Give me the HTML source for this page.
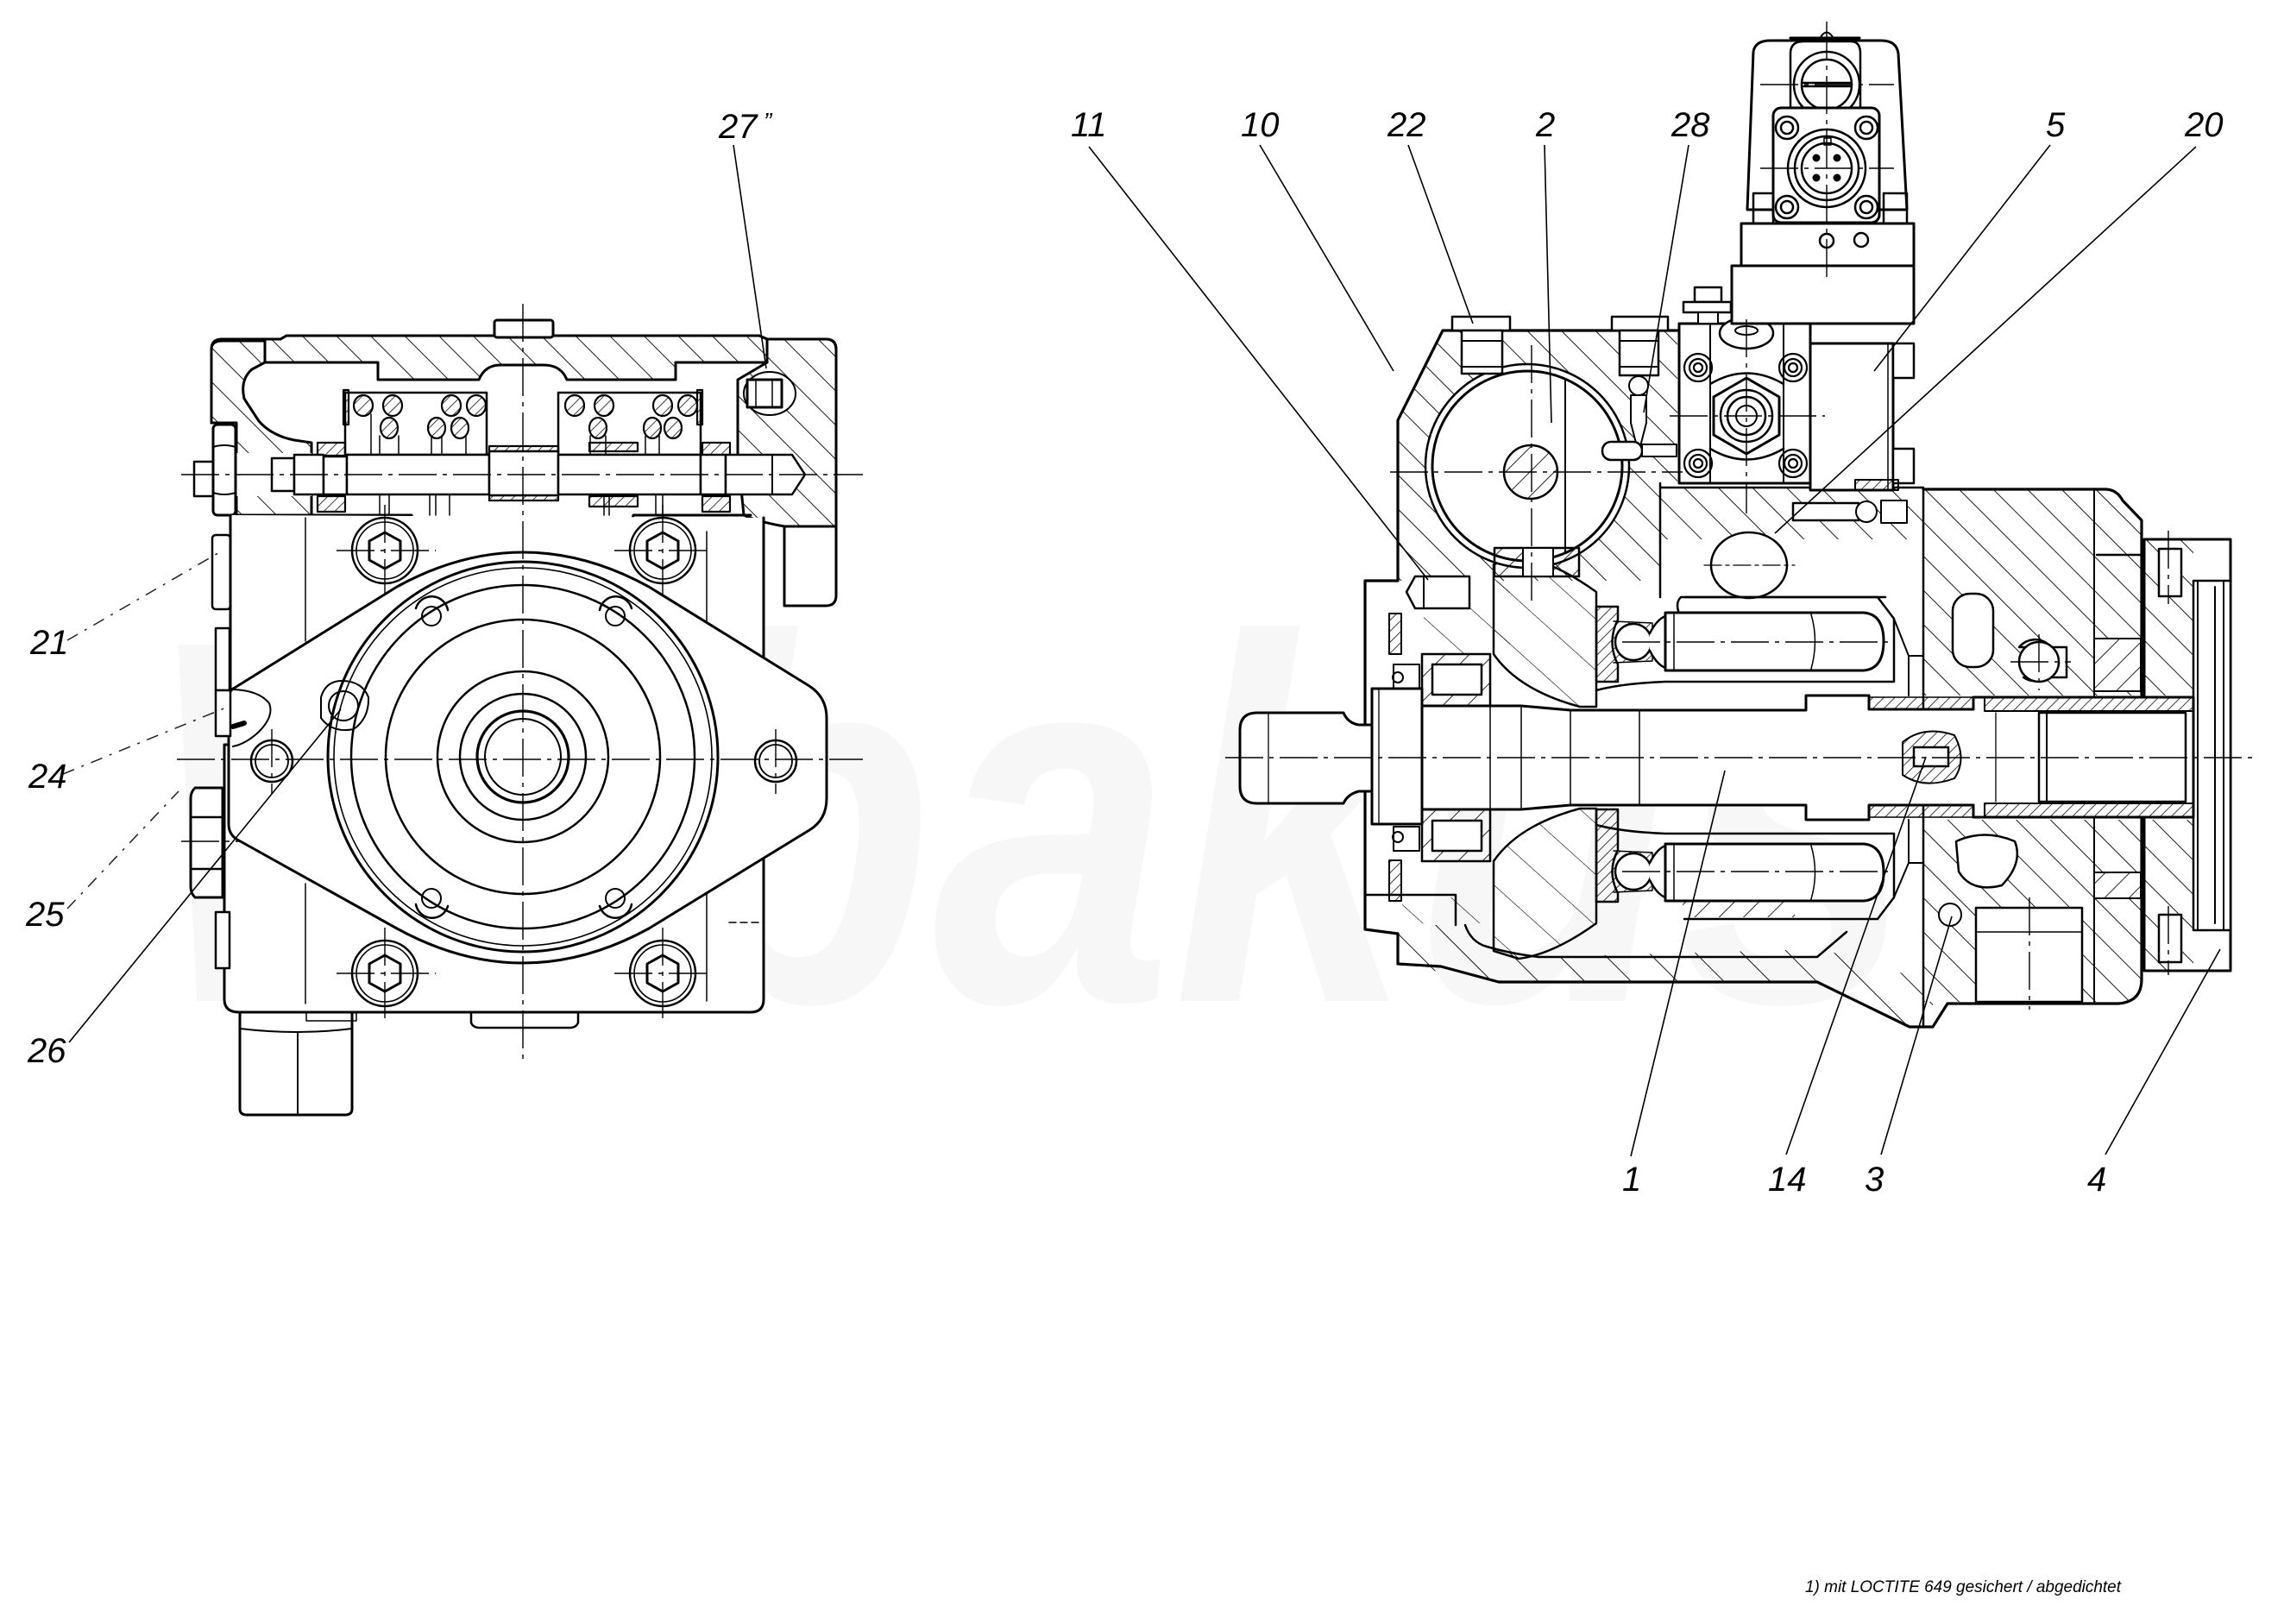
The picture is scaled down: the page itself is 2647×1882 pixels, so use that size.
<!DOCTYPE html>
<html><head><meta charset="utf-8"><style>
html,body{margin:0;padding:0;background:#fff;}
svg{display:block;}
text{font-family:"Liberation Sans",sans-serif;font-style:italic;fill:#000;}
</style></head><body>
<svg width="2647" height="1882" viewBox="0 0 2647 1882" xmlns="http://www.w3.org/2000/svg">
<defs>
<pattern id="h" width="28" height="28" patternUnits="userSpaceOnUse" patternTransform="rotate(-45)"><line x1="0" y1="0" x2="0" y2="28" stroke="#000" stroke-width="1.8"/></pattern>
<pattern id="h2" width="20" height="20" patternUnits="userSpaceOnUse" patternTransform="rotate(45)"><line x1="0" y1="0" x2="0" y2="20" stroke="#000" stroke-width="1.7"/></pattern>
<pattern id="hf" width="9" height="9" patternUnits="userSpaceOnUse" patternTransform="rotate(45)"><line x1="0" y1="0" x2="0" y2="9" stroke="#000" stroke-width="1.5"/></pattern>
<pattern id="hs" width="44" height="44" patternUnits="userSpaceOnUse" patternTransform="rotate(-48)"><line x1="0" y1="0" x2="0" y2="44" stroke="#000" stroke-width="1.2"/></pattern>
<pattern id="hw" width="38" height="38" patternUnits="userSpaceOnUse" patternTransform="rotate(-45)"><line x1="0" y1="0" x2="0" y2="38" stroke="#000" stroke-width="1.8"/></pattern>
</defs>
<rect width="2647" height="1882" fill="#fff"/>

<!-- watermark -->
<text x="170" y="1160" font-size="600" font-weight="bold" textLength="2050" lengthAdjust="spacingAndGlyphs" style="fill:#f7f7f7">Wibakus</text>

<!-- ================= LEFT VIEW ================= -->
<g fill="none" stroke="#000" stroke-width="3" stroke-linejoin="round" stroke-linecap="round">
<path fill="url(#h)" d="M325,393 L332,389 L880,389 L889,393 L889,420 L783,420 L783,440 L657,440 Q650,423 630,423 L580,423 Q562,423 555,440 L438,440 L438,420 L307,420 L307,393 Z"/>
<path fill="url(#h)" d="M245,405 Q245,395 257,395 L307,395 L307,420 L292,428 Q278,440 283,462 L300,488 Q315,505 341,510 L361,513 L361,597 L274,597 L274,490 L245,490 Z"/>
<path fill="url(#h)" d="M889,393 L957,393 Q969,393 969,405 L969,610 L909,610 Q880,605 862,597 L855,527 L855,440 L889,420 Z"/>
<path d="M245,490 L245,405 Q245,393 257,393 L325,393 L332,389 L880,389 L889,393 L957,393 Q969,393 969,405 L969,690 Q969,702 957,702 L909,702 L909,610"/>
<rect x="573" y="371" width="68" height="20" rx="3" fill="#fff"/>
<ellipse cx="892" cy="456" rx="30" ry="25" fill="#fff" stroke-width="2"/>
<rect x="866" y="440" width="40" height="32" fill="#fff"/>
<line x1="876" y1="440" x2="876" y2="472" stroke-width="1.5"/><line x1="895" y1="440" x2="895" y2="472" stroke-width="1.5"/>
<rect x="400" y="455" width="164" height="72" fill="#fff" stroke-width="2.5"/>
<rect x="647" y="455" width="165" height="72" fill="#fff" stroke-width="2.5"/>
<g fill="url(#hf)" stroke-width="2.2">
<ellipse cx="421" cy="470" rx="11" ry="12"/><ellipse cx="455" cy="470" rx="11" ry="12"/><ellipse cx="523" cy="470" rx="11" ry="12"/><ellipse cx="552" cy="470" rx="11" ry="12"/>
<ellipse cx="451" cy="496" rx="10" ry="12"/><ellipse cx="506" cy="496" rx="10" ry="12"/><ellipse cx="533" cy="496" rx="10" ry="12"/>
<ellipse cx="666" cy="470" rx="11" ry="12"/><ellipse cx="700" cy="470" rx="11" ry="12"/><ellipse cx="768" cy="470" rx="11" ry="12"/><ellipse cx="797" cy="470" rx="11" ry="12"/>
<ellipse cx="693" cy="496" rx="10" ry="12"/><ellipse cx="756" cy="496" rx="10" ry="12"/><ellipse cx="780" cy="496" rx="10" ry="12"/>
<rect x="398" y="452" width="6" height="40"/><rect x="808" y="452" width="6" height="40"/>
<rect x="683" y="513" width="56" height="10"/><rect x="683" y="575" width="56" height="12"/>
<rect x="368" y="513" width="32" height="15"/><rect x="368" y="575" width="32" height="18"/>
<rect x="814" y="513" width="32" height="15"/><rect x="814" y="575" width="32" height="18"/>
<rect x="567" y="517" width="80" height="6"/><rect x="567" y="574" width="80" height="6"/>
</g>
<path d="M430,480 L430,527 M440,505 L440,527 M462,505 L462,527 M500,505 L500,527 M512,505 L512,527 M540,505 L540,527 M684,505 L684,527 M702,505 L702,527 M748,505 L748,527 M764,505 L764,527" stroke-width="1.5"/>
<rect x="274" y="525" width="87" height="50" fill="#fff" stroke="none"/>
<rect x="315" y="531" width="26" height="38" fill="#fff" stroke-width="2.5"/>
<rect x="341" y="527" width="34" height="46" fill="#fff" stroke-width="2.5"/>
<rect x="375" y="529" width="27" height="44" fill="#fff" stroke-width="2.5"/>
<rect x="402" y="527" width="165" height="46" fill="#fff" stroke-width="2.5"/>
<rect x="567" y="523" width="80" height="51" fill="#fff" stroke-width="2.5"/>
<rect x="647" y="527" width="165" height="46" fill="#fff" stroke-width="2.5"/>
<rect x="812" y="527" width="29" height="46" fill="#fff" stroke-width="2.5"/>
<path d="M841,527 L918,527 L933,550 L918,573 L841,573 Z" fill="#fff" stroke-width="2.5"/>
<line x1="895" y1="527" x2="895" y2="573" stroke-width="2"/>
<path d="M440,573 L440,597 M451,573 L451,597 M498,573 L498,597 M505,573 L505,597 M521,573 L521,597 M700,573 L700,597 M706,573 L706,597 M760,573 L760,597 M768,573 L768,597" stroke-width="1.5"/>
<rect x="225" y="535" width="22" height="40" fill="#fff" stroke-width="2.5"/>
<rect x="247" y="492" width="26" height="105" rx="5" fill="#fff" stroke-width="3"/>
<path d="M247,518 Q260,514 273,518 M247,571 Q260,575 273,571" stroke-width="2"/>
<rect x="246" y="620" width="21" height="86" rx="4" fill="#fff" stroke-width="2.5"/>
<path d="M267,628 Q300,630 300,645 Q295,660 267,660" stroke-width="1.3" stroke-dasharray="5 4"/>
<path d="M274,597 L477,597 Q485,625 510,625 L705,625 Q728,625 734,597 L870,597"/>
<path d="M267,597 L267,863 L260,863 L260,1158 Q260,1173 277,1173 L870,1173 Q885,1173 885,1158 L885,600" fill="#fff"/>
<path d="M354,600 L354,743 M354,1024 L354,1163 M819,616 L819,740 M819,1020 L819,1160" stroke-width="1.5"/>
<path d="M845,770 L885,770 M845,1069 L885,1069" stroke-width="1.5" stroke-dasharray="8 5"/>
<g stroke-width="2.5">
<circle cx="446" cy="638" r="38"/><circle cx="446" cy="638" r="33" stroke-width="1.6"/>
<circle cx="768" cy="638" r="38"/><circle cx="768" cy="638" r="33" stroke-width="1.6"/>
</g>
<path d="M272,797 L460,680 Q606,600 752,680 L938,795 Q958,808 958,832 L958,925 Q958,950 938,962 L752,1076 Q606,1156 460,1076 L275,973 Q265,967 265,955 L265,810 Q265,800 272,797 Z" fill="#fff"/>
<g stroke-width="2.5">
<circle cx="446" cy="1128" r="38"/><circle cx="446" cy="1128" r="33" stroke-width="1.6"/>
<circle cx="768" cy="1128" r="38"/><circle cx="768" cy="1128" r="33" stroke-width="1.6"/>
</g>
<g stroke-width="3">
<polygon points="446,617 464,627 464,649 446,659 428,649 428,627"/>
<polygon points="768,617 786,627 786,649 768,659 750,649 750,627"/>
<polygon points="446,1107 464,1117 464,1139 446,1149 428,1139 428,1117"/>
<polygon points="768,1107 786,1117 786,1139 768,1149 750,1139 750,1117"/>
</g>
<circle cx="606" cy="877" r="226" stroke-width="3"/>
<circle cx="606" cy="877" r="219" stroke-width="1.6"/>
<circle cx="606" cy="877" r="199" stroke-width="2.5"/>
<circle cx="606" cy="877" r="159" stroke-width="2.5"/>
<circle cx="606" cy="877" r="99" stroke-width="2.5"/>
<circle cx="606" cy="877" r="73" stroke-width="2.5"/>
<circle cx="606" cy="877" r="53" stroke-width="3.2"/>
<circle cx="606" cy="877" r="44" stroke-width="2"/>
<g stroke-width="2.5">
<path d="M482,705 A19,19 0 0,1 519,707"/><circle cx="500" cy="714" r="11" stroke-width="2"/>
<path d="M695,707 A19,19 0 0,1 732,705"/><circle cx="713" cy="714" r="11" stroke-width="2"/>
<path d="M482,1048 A19,19 0 0,0 519,1050"/><circle cx="500" cy="1041" r="11" stroke-width="2"/>
<path d="M695,1050 A19,19 0 0,0 732,1048"/><circle cx="713" cy="1041" r="11" stroke-width="2"/>
</g>
<circle cx="315" cy="882" r="24" stroke-width="2.5"/><circle cx="315" cy="882" r="19" stroke-width="1.8"/>
<circle cx="899" cy="882" r="24" stroke-width="2.5"/><circle cx="899" cy="882" r="19" stroke-width="1.8"/>
<path d="M372,808 Q378,788 398,789 Q420,790 427,808 Q428,832 410,845 Q385,850 372,832 Z" stroke-width="2"/>
<circle cx="398" cy="818" r="17" stroke-width="2"/>
<rect x="250" y="728" width="16" height="72" fill="#fff" stroke-width="2.5"/>
<rect x="250" y="800" width="17" height="53" fill="#fff" stroke-width="2.5"/>
<path d="M270,799 Q300,800 312,815 Q318,830 300,848 Q285,862 270,865" fill="#fff" stroke-width="2"/>
<path d="M270,842 L283,838" stroke-width="6"/>
<rect x="250" y="1057" width="16" height="65" fill="#fff" stroke-width="2.5"/>
<path d="M226,913 L258,913 L258,1040 L226,1040 Q221,1035 221,1028 L221,925 Q221,918 226,913 Z" fill="#fff" stroke-width="3"/>
<path d="M221,947 L258,947 M221,1007 L258,1007" stroke-width="2.5"/>
<path d="M278,1173 L408,1173 L408,1285 Q408,1292 400,1292 L286,1292 Q278,1292 278,1285 Z" fill="#fff" stroke-width="3"/>
<path d="M278,1192 Q345,1200 408,1192" stroke-width="2"/>
<line x1="345" y1="1196" x2="345" y2="1292" stroke-width="2"/>
<rect x="355" y="1173" width="58" height="10" stroke-width="1.5"/>
<path d="M546,1173 L670,1173 L670,1185 Q668,1191 660,1191 L556,1191 Q548,1191 546,1185 Z" stroke-width="2.5"/>
</g>
<g stroke="#000" stroke-width="1.4" fill="none" stroke-dasharray="44 7 5 7">
<line x1="205" y1="880" x2="1000" y2="880"/>
<line x1="606" y1="352" x2="606" y2="1232"/>
<line x1="210" y1="550" x2="1000" y2="550"/>
<line x1="446" y1="585" x2="446" y2="690"/><line x1="390" y1="638" x2="505" y2="638"/>
<line x1="768" y1="585" x2="768" y2="690"/><line x1="712" y1="638" x2="825" y2="638"/>
<line x1="390" y1="1128" x2="505" y2="1128"/><line x1="712" y1="1128" x2="825" y2="1128"/>
<line x1="446" y1="1075" x2="446" y2="1180"/><line x1="768" y1="1075" x2="768" y2="1180"/>
<line x1="315" y1="845" x2="315" y2="920"/><line x1="899" y1="845" x2="899" y2="920"/>
<line x1="210" y1="975" x2="280" y2="975"/>
</g>

<!-- ================= RIGHT VIEW ================= -->
<g fill="none" stroke="#000" stroke-width="3" stroke-linejoin="round" stroke-linecap="round">
<path fill="url(#h)" fill-rule="evenodd" stroke="none" d="M1620,487 L1672,383 L1944,383 L1944,565 L1924,565 L1924,673 L1620,673 Z M1652,540 A118,118 0 1,0 1888,540 A118,118 0 1,0 1652,540 Z"/>
<rect x="1924" y="565" width="305" height="60" fill="url(#h)" stroke="none"/>
<path fill="url(#h)" stroke="none" d="M2229,567 L2453,567 Q2482,567 2482,600 L2482,1135 Q2482,1161 2455,1161 L2229,1161 Z"/>
<path fill="url(#hw)" stroke="none" d="M1620,1117 L1731,1138 L2106,1138 L2213,1190 L2240,1190 L2240,1161 L2229,1161 L2229,1130 L2180,1125 L2130,1105 L2106,1100 L1783,1109 Q1735,1100 1723,1097 Q1705,1088 1698,1072 L1620,1072 Z"/>
<rect x="1650" y="673" width="100" height="85" fill="url(#hs)" stroke="none"/>
<rect x="1625" y="1040" width="105" height="30" fill="url(#hs)" stroke="none"/>
<rect x="2229" y="806" width="253" height="144" fill="#fff" stroke="none"/>
<rect x="2290" y="1052" width="123" height="109" fill="#fff" stroke-width="2.5"/>
<line x1="2290" y1="1080" x2="2413" y2="1080" stroke-width="1.5"/>
<rect x="2263" y="688" width="47" height="85" rx="20" fill="#fff" stroke-width="2.5"/>
<path d="M2340,750 A24,24 0 1,1 2345,785 L2395,785 L2395,750 Z" fill="#fff" stroke-width="2.5"/>
<circle cx="2363" cy="767" r="23" fill="#fff" stroke-width="2.5"/>
<path d="M2267,975 Q2300,960 2335,975 Q2345,1000 2320,1026 Q2285,1035 2270,1010 Z" fill="#fff" stroke-width="2.5"/>
<circle cx="2260" cy="1060" r="13" fill="#fff" stroke-width="2"/>
<rect x="2427" y="740" width="54" height="61" fill="#fff" stroke="none"/>
<rect x="2427" y="740" width="54" height="61" fill="url(#h2)" stroke-width="2"/>
<rect x="2427" y="1011" width="54" height="30" fill="#fff" stroke="none"/>
<rect x="2427" y="1011" width="54" height="30" fill="url(#h2)" stroke-width="2"/>
<line x1="2427" y1="567" x2="2427" y2="1161" stroke-width="2"/>
<line x1="2229" y1="567" x2="2229" y2="1190" stroke-width="2.5"/>
<path d="M1944,383 L1672,383 L1620,487 L1620,673 L1582,673 L1582,1077 L1620,1082 L1620,1117 L1670,1120 L1737,1138 L2106,1138 L2213,1190 L2240,1190 L2257,1163 L2455,1163 Q2482,1161 2482,1135 L2482,603 L2460,580 Q2453,567 2440,567 L2229,567" stroke-width="3.2"/>
<path d="M1924,565 L2229,565 M1924,560 L1924,692" stroke-width="2.5"/>
<path d="M1783,1109 L2106,1109 L2140,1080" stroke-width="2.5"/>
<path d="M1698,1072 Q1705,1092 1723,1097 Q1750,1105 1783,1109" stroke-width="2.5"/>
<path d="M1582,1037 L1687,1037 L1687,1072" stroke-width="2.5"/>
<ellipse cx="2027" cy="655" rx="44" ry="38" fill="#fff" stroke-width="2.5"/>
<line x1="1975" y1="655" x2="2080" y2="655" stroke-width="1.2" stroke-dasharray="20 5 4 5"/>
<rect x="2078" y="583" width="76" height="20" fill="#fff" stroke-width="2.5"/>
<circle cx="2163" cy="593" r="12" fill="#fff" stroke-width="2"/>
<rect x="2180" y="580" width="30" height="26" fill="#fff" stroke-width="2"/>
<path d="M1948,692 L2185,692 M1948,692 Q1940,700 1948,715" stroke-width="2.5"/>
<rect x="2485" y="625" width="57" height="500" fill="url(#h)" stroke="none"/>
<rect x="2485" y="806" width="57" height="144" fill="#fff" stroke="none"/>
<rect x="2485" y="625" width="100" height="500" stroke-width="3"/>
<rect x="2542" y="673" width="43" height="405" fill="#fff" stroke-width="2.5"/>
<path d="M2547,673 L2547,1078 M2567,680 L2567,1070 M2577,673 L2577,1078" stroke-width="2"/>
<rect x="2502" y="636" width="26" height="55" fill="#fff" stroke-width="2.5"/>
<rect x="2502" y="1060" width="26" height="55" fill="#fff" stroke-width="2.5"/>
<path d="M2430,643 L2485,643" stroke-width="2.5"/>
<path d="M1457,826 L1557,826 Q1562,838 1575,840 L1590,840 L1590,917 L1575,917 Q1562,920 1557,931 L1457,931 Q1437,931 1437,911 L1437,846 Q1437,826 1457,826 Z" fill="#fff" stroke-width="3"/>
<line x1="1470" y1="826" x2="1470" y2="931" stroke-width="1.3"/>
<rect x="1590" y="798" width="58" height="157" fill="#fff" stroke-width="3"/>
<line x1="1598" y1="798" x2="1598" y2="955" stroke-width="1.3"/>
<rect x="1648" y="758" width="79" height="60" fill="url(#h2)" stroke-width="2.5"/>
<rect x="1660" y="770" width="57" height="35" fill="#fff" stroke-width="2.5"/>
<rect x="1648" y="938" width="79" height="60" fill="url(#h2)" stroke-width="2.5"/>
<rect x="1660" y="951" width="57" height="35" fill="#fff" stroke-width="2.5"/>
<rect x="1610" y="711" width="14" height="47" fill="url(#hf)" stroke-width="2"/>
<rect x="1610" y="997" width="14" height="47" fill="url(#hf)" stroke-width="2"/>
<circle cx="1620" cy="785" r="6" stroke-width="2"/><circle cx="1620" cy="970" r="6" stroke-width="2"/>
<rect x="1615" y="770" width="30" height="28" stroke-width="2"/><rect x="1615" y="958" width="30" height="28" stroke-width="2"/>
<path d="M1731,654 L1731,758 Q1760,800 1831,819 L1850,819 L1850,686 Q1800,650 1760,645 Z" fill="url(#hs)" stroke-width="2.5"/>
<path d="M1731,1102 L1731,998 Q1760,956 1831,937 L1850,937 L1850,1070 Q1800,1106 1760,1111 Z" fill="url(#hs)" stroke-width="2.5"/>
<path d="M1648,818 L1763,818 L1820,823 L2093,823 L2093,806 L2166,806 L2166,822 L2287,822 L2287,808 L2542,808 L2542,947 L2287,947 L2287,933 L2166,933 L2166,950 L2093,950 L2093,933 L1820,933 L1763,938 L1648,938 Z" fill="#fff" stroke-width="3"/>
<path d="M1727,818 L1727,938 M1763,818 L1763,938 M1820,823 L1820,933 M1900,823 L1900,933" stroke-width="1.5"/>
<rect x="2166" y="808" width="121" height="14" fill="url(#hf)" stroke-width="1.5"/>
<rect x="2166" y="933" width="121" height="14" fill="url(#hf)" stroke-width="1.5"/>
<rect x="2300" y="808" width="242" height="16" fill="url(#hf)" stroke-width="2"/>
<rect x="2300" y="931" width="242" height="16" fill="url(#hf)" stroke-width="2"/>
<rect x="2363" y="826" width="170" height="103" fill="#fff" stroke-width="2.5"/>
<line x1="2372" y1="826" x2="2372" y2="929" stroke-width="2"/>
<line x1="2313" y1="826" x2="2313" y2="929" stroke-width="1.3"/>
<path d="M2205,860 Q2230,840 2265,852 Q2280,880 2265,902 Q2230,915 2205,898 Z" fill="url(#hf)" stroke-width="2"/>
<rect x="2218" y="866" width="40" height="22" fill="#fff" stroke-width="2.5"/>
<path d="M1850,703 L1875,703 L1875,718 Q1862,744 1875,770 L1875,790 L1850,790 Z" fill="url(#hf)" stroke-width="2.5"/>
<path d="M1850,938 L1875,938 L1875,985 Q1862,1010 1875,1035 L1875,1045 L1850,1045 Z" fill="url(#hf)" stroke-width="2.5"/>
<path d="M1870,720 L1915,722 L1915,766 L1870,768" fill="url(#hf)" stroke-width="1.5"/>
<path d="M1870,986 L1915,988 L1915,1032 L1870,1034" fill="url(#hf)" stroke-width="1.5"/>
<circle cx="1893" cy="744" r="21" fill="#fff" stroke-width="2.5"/>
<circle cx="1893" cy="1010" r="21" fill="#fff" stroke-width="2.5"/>
<path d="M1912,734 Q1920,718 1930,714 L1930,774 Q1920,770 1912,754" fill="#fff" stroke-width="2.5"/>
<path d="M1912,1000 Q1920,984 1930,980 L1930,1040 Q1920,1036 1912,1020" fill="#fff" stroke-width="2.5"/>
<path d="M1930,710 L2160,710 Q2183,712 2183,743 Q2183,775 2160,777 L1930,777 Z" fill="#fff" stroke-width="3"/>
<path d="M1930,978 L2160,978 Q2183,980 2183,1011 Q2183,1042 2160,1044 L1930,1044 Z" fill="#fff" stroke-width="3"/>
<path d="M2099,712 Q2108,743 2099,775 M2099,980 Q2108,1011 2099,1042 M1940,712 L1940,775 M1940,980 L1940,1042" stroke-width="1.5"/>
<path d="M1952,692 L2176,692 L2195,717 L2195,790 L1930,790 Q1880,792 1850,800" stroke-width="2.5"/>
<path d="M1952,1065 L2176,1065 L2195,1040 L2195,966 L1930,966 Q1880,964 1850,956" stroke-width="2.5"/>
<rect x="1950" y="1045" width="130" height="18" fill="url(#h2)" stroke="none"/>
<path d="M2195,717 L2212,760 L2212,806 M2195,1040 L2212,1000 L2212,950" stroke-width="2"/>
<path d="M2212,760 L2229,760 M2212,1000 L2229,1000" stroke-width="2"/>
<circle cx="1770" cy="540" r="118" fill="#fff" stroke-width="2.5"/>
<circle cx="1770" cy="540" r="110" stroke-width="3"/>
<line x1="1814" y1="440" x2="1814" y2="640" stroke-width="2"/>
<circle cx="1774" cy="547" r="31" fill="url(#h2)" stroke-width="2.5"/>
<rect x="1732" y="635" width="98" height="33" fill="url(#h2)" stroke-width="2.5"/>
<rect x="1765" y="635" width="35" height="33" fill="#fff" stroke-width="2"/>
<path d="M1640,668 L1703,668 L1703,705 L1640,705 L1630,686 Z" fill="#fff" stroke-width="2.5"/>
<line x1="1650" y1="668" x2="1650" y2="705" stroke-width="2"/>
<rect x="1683" y="367" width="67" height="16" fill="#fff" stroke-width="2.5"/>
<rect x="1694" y="383" width="47" height="50" fill="#fff" stroke-width="2.5"/>
<path d="M1694,395 L1741,395 M1694,425 L1741,425" stroke-width="2"/>
<rect x="1868" y="367" width="65" height="16" fill="#fff" stroke-width="2.5"/>
<rect x="1877" y="383" width="45" height="52" fill="#fff" stroke-width="2.5"/>
<path d="M1877,395 L1922,395 M1877,425 L1922,425" stroke-width="2"/>
<circle cx="1899" cy="447" r="11" fill="#fff" stroke-width="2"/>
<path d="M1890,458 L1908,458 L1908,490 L1899,525 L1890,490 Z" fill="#fff" stroke-width="2"/>
<rect x="1857" y="512" width="46" height="21" rx="10" fill="#fff" stroke-width="2.5"/>
<rect x="1903" y="515" width="40" height="14" fill="#fff" stroke-width="2"/>
<rect x="1946" y="375" width="152" height="185" fill="#fff" stroke-width="3"/>
<path d="M1982,375 L1982,560 M2067,375 L2067,560" stroke-width="2"/>
<path d="M1982,445 Q2024,420 2067,445 M1982,520 Q2024,545 2067,520" stroke-width="2.5"/>
<ellipse cx="2024" cy="386" rx="31" ry="18" fill="#fff" stroke-width="2.5"/>
<ellipse cx="2024" cy="383" rx="13" ry="5" stroke-width="2"/>
<polygon points="2024,438 2062,460 2062,504 2024,526 1986,504 1986,460" stroke-width="3"/>
<circle cx="2024" cy="482" r="30" stroke-width="2.5"/><circle cx="2024" cy="482" r="22" stroke-width="2.5"/><circle cx="2024" cy="482" r="12" stroke-width="2"/>
<g stroke-width="2.2">
<circle cx="1968" cy="426" r="16"/><circle cx="1968" cy="426" r="10"/><circle cx="1968" cy="426" r="5"/>
<circle cx="2078" cy="426" r="16"/><circle cx="2078" cy="426" r="10"/><circle cx="2078" cy="426" r="5"/>
<circle cx="1968" cy="537" r="16"/><circle cx="1968" cy="537" r="10"/><circle cx="1968" cy="537" r="5"/>
<circle cx="2078" cy="537" r="16"/><circle cx="2078" cy="537" r="10"/><circle cx="2078" cy="537" r="5"/>
</g>
<rect x="1964" y="333" width="31" height="17" fill="#fff" stroke-width="2.5"/>
<rect x="1951" y="350" width="55" height="12" fill="#fff" stroke-width="2.5"/>
<rect x="1968" y="362" width="23" height="13" fill="#fff" stroke-width="2"/>
<rect x="2098" y="398" width="96" height="170" fill="#fff" stroke-width="3"/>
<line x1="2188" y1="398" x2="2188" y2="568" stroke-width="1.5"/>
<rect x="2194" y="398" width="24" height="40" fill="#fff" stroke-width="2.5"/>
<rect x="2194" y="520" width="24" height="40" fill="#fff" stroke-width="2.5"/>
<rect x="2150" y="556" width="50" height="12" fill="url(#hf)" stroke-width="2"/>
<rect x="2007" y="308" width="211" height="67" fill="#fff" stroke-width="3"/>
<rect x="2018" y="259" width="200" height="49" fill="#fff" stroke-width="3"/>
<circle cx="2117" cy="279" r="8" stroke-width="2.5"/><circle cx="2157" cy="278" r="8" stroke-width="2.5"/>
<path d="M2032,60 Q2034,47 2052,47 L2180,47 Q2198,47 2200,62 L2210,243 L2025,243 Z" fill="#fff" stroke-width="3"/>
<path d="M2075,130 L2075,62 Q2075,48 2090,48 L2145,48 Q2156,48 2156,62 L2156,130" stroke-width="2.5"/>
<path d="M2075,44 L2155,44" stroke-width="3"/>
<path d="M2110,43 Q2117,32 2124,43" stroke-width="2"/>
<circle cx="2117" cy="98" r="38" fill="#fff" stroke-width="2.5"/>
<circle cx="2117" cy="98" r="29" stroke-width="2.5"/>
<path d="M2090,96 L2144,96 M2090,100 L2144,100" stroke-width="2.5"/>
<rect x="2055" y="125" width="123" height="133" rx="9" fill="#fff" stroke-width="3"/>
<circle cx="2117" cy="195" r="45" stroke-width="2.5"/><circle cx="2117" cy="195" r="37" stroke-width="2.5"/><circle cx="2117" cy="195" r="29" stroke-width="2.5"/>
<circle cx="2105" cy="183" r="4" fill="#000" stroke-width="1"/><circle cx="2129" cy="183" r="4" fill="#000" stroke-width="1"/>
<circle cx="2105" cy="206" r="4" fill="#000" stroke-width="1"/><circle cx="2129" cy="206" r="4" fill="#000" stroke-width="1"/>
<rect x="2114" y="160" width="8" height="8" stroke-width="1.5"/>
<g stroke-width="2.5">
<circle cx="2071" cy="148" r="13"/><circle cx="2071" cy="148" r="7"/>
<circle cx="2163" cy="148" r="13"/><circle cx="2163" cy="148" r="7"/>
<circle cx="2071" cy="240" r="13"/><circle cx="2071" cy="240" r="7"/>
<circle cx="2163" cy="240" r="13"/><circle cx="2163" cy="240" r="7"/>
</g>
<rect x="2032" y="224" width="23" height="35" stroke-width="2.5"/>
<rect x="2183" y="224" width="27" height="35" stroke-width="2.5"/>
</g>
<g stroke="#000" stroke-width="1.4" fill="none" stroke-dasharray="44 7 5 7">
<line x1="1420" y1="878" x2="2610" y2="878"/>
<line x1="1611" y1="547" x2="1950" y2="547"/>
<line x1="1775" y1="400" x2="1775" y2="700"/>
<line x1="2117" y1="25" x2="2117" y2="322"/>
<line x1="2040" y1="98" x2="2195" y2="98"/>
<line x1="2040" y1="195" x2="2195" y2="195"/>
<line x1="2024" y1="370" x2="2024" y2="595"/>
<line x1="1935" y1="482" x2="2115" y2="482"/>
<line x1="1880" y1="744" x2="2190" y2="744"/>
<line x1="1880" y1="1010" x2="2190" y2="1010"/>
<line x1="2363" y1="735" x2="2363" y2="800"/>
<line x1="2330" y1="767" x2="2400" y2="767"/>
<line x1="2352" y1="1040" x2="2352" y2="1170"/>
<line x1="2513" y1="615" x2="2513" y2="700"/>
<line x1="2513" y1="1050" x2="2513" y2="1130"/>
</g>

<!-- ================= LEADERS ================= -->
<g stroke="#000" stroke-width="1.6" fill="none">
<line x1="850" y1="168" x2="888" y2="427"/>
<line x1="80" y1="1208" x2="395" y2="822"/>
<line x1="1262" y1="170" x2="1655" y2="672"/>
<line x1="1460" y1="168" x2="1615" y2="430"/>
<line x1="1632" y1="168" x2="1707" y2="375"/>
<line x1="1790" y1="168" x2="1798" y2="490"/>
<line x1="1957" y1="168" x2="1905" y2="478"/>
<line x1="2376" y1="168" x2="2172" y2="430"/>
<line x1="2545" y1="170" x2="2057" y2="618"/>
<line x1="1890" y1="1340" x2="1999" y2="893"/>
<line x1="2070" y1="1338" x2="2232" y2="877"/>
<line x1="2180" y1="1338" x2="2262" y2="1062"/>
<line x1="2440" y1="1338" x2="2573" y2="1100"/>
</g>
<g stroke="#222" stroke-width="1.5" fill="none" stroke-dasharray="14 9 3 9">
<line x1="78" y1="742" x2="258" y2="638"/>
<line x1="73" y1="897" x2="262" y2="820"/>
<line x1="78" y1="1053" x2="207" y2="917"/>
</g>

<!-- ================= LABELS ================= -->
<g font-size="40">
<text x="833" y="160">27</text>
<text x="885" y="150" font-size="28">”</text>
<text x="35" y="758">21</text>
<text x="33" y="913">24</text>
<text x="30" y="1073">25</text>
<text x="32" y="1231">26</text>
<text x="1241" y="158">11</text>
<text x="1438" y="158">10</text>
<text x="1608" y="158">22</text>
<text x="1780" y="158">2</text>
<text x="1937" y="158">28</text>
<text x="2371" y="158">5</text>
<text x="2532" y="158">20</text>
<text x="1880" y="1380">1</text>
<text x="2049" y="1380">14</text>
<text x="2161" y="1380">3</text>
<text x="2419" y="1380">4</text>
</g>
<text x="2092" y="1845" font-size="19" textLength="366" lengthAdjust="spacingAndGlyphs">1) mit LOCTITE 649  gesichert / abgedichtet</text>
</svg>
</body></html>
